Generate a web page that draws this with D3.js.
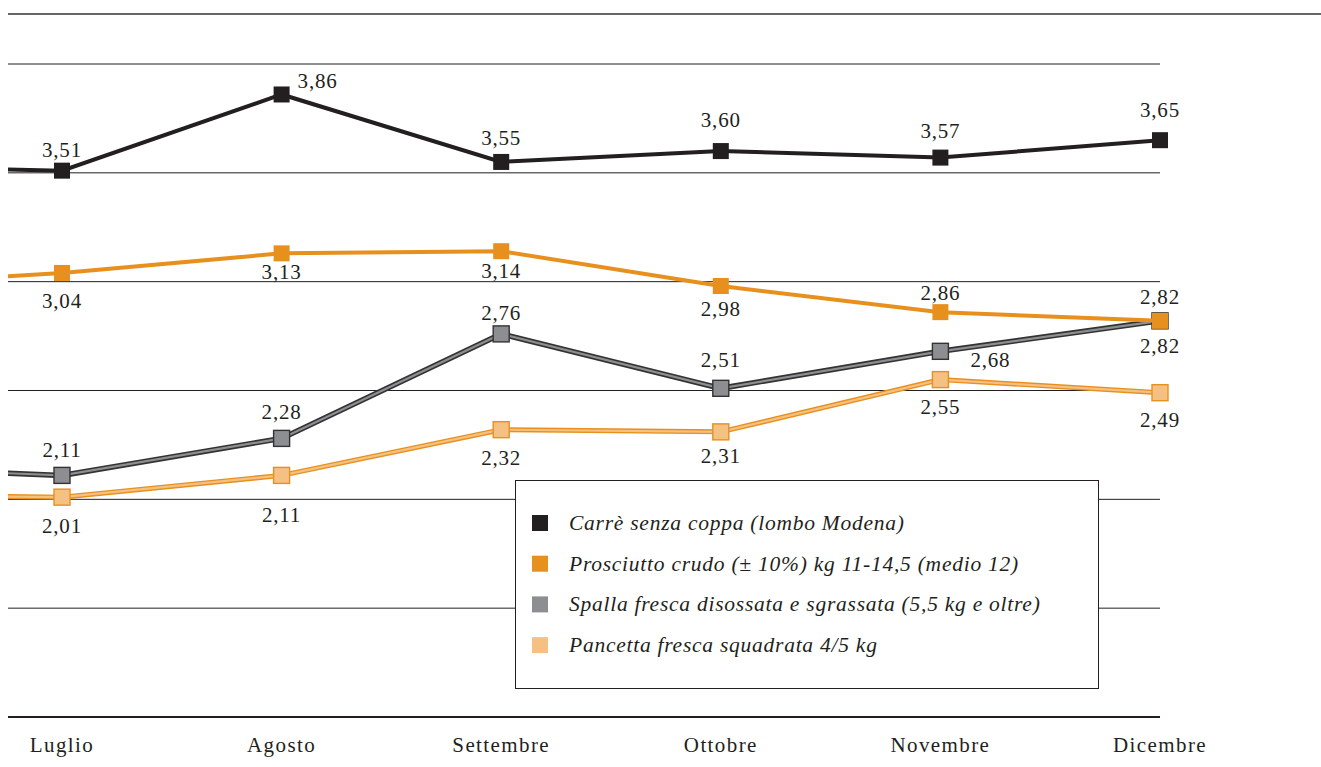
<!DOCTYPE html>
<html>
<head>
<meta charset="utf-8">
<script src="https://cdn.jsdelivr.net/npm/d3@7"></script>
<style>
  body { margin: 0; background: #fff; }
  svg { display: block; font-family: "Liberation Serif", "DejaVu Serif", serif; }
</style>
</head>
<body>
<svg id="chart" width="1321" height="767"></svg>
<script>
var months = ["Luglio", "Agosto", "Settembre", "Ottobre", "Novembre", "Dicembre"];

// Valori in euro/kg
var carre      = [3.51, 3.86, 3.55, 3.60, 3.57, 3.65];
var prosciutto = [3.04, 3.13, 3.14, 2.98, 2.86, 2.82];
var spalla     = [2.11, 2.28, 2.76, 2.51, 2.68, 2.82];
var pancetta   = [2.01, 2.11, 2.32, 2.31, 2.55, 2.49];

// giugno (mese precedente, esce a sinistra del grafico)
var prevValues = {carre: 3.53, prosciutto: 2.98, spalla: 2.15, pancetta: 2.02};

var yTicks = [1.5, 2, 2.5, 3, 3.5, 4];

var seriesNames = {
  carre: "Carrè senza coppa (lombo Modena)",
  prosciutto: "Prosciutto crudo (± 10%) kg 11-14,5 (medio 12)",
  spalla: "Spalla fresca disossata e sgrassata (5,5 kg e oltre)",
  pancetta: "Pancetta fresca squadrata 4/5 kg"
};

var svg = d3.select("#chart");

var x = d3.scaleLinear().domain([0, 5]).range([62, 1160]);
var y = d3.scaleLinear().domain([1, 4]).range([717, 64]);

// top rule
svg.append("line")
    .attr("x1", 8).attr("x2", 1321)
    .attr("y1", 14).attr("y2", 14)
    .attr("stroke", "#666").attr("stroke-width", 2);

// gridlines
svg.append("g").selectAll("line")
    .data(yTicks)
    .enter().append("line")
    .attr("x1", 8).attr("x2", 1160)
    .attr("y1", function(d) { return y(d); })
    .attr("y2", function(d) { return y(d); })
    .attr("stroke", "#231f20").attr("stroke-width", 1);

// base axis
svg.append("line")
    .attr("x1", 8).attr("x2", 1160)
    .attr("y1", y(1)).attr("y2", y(1))
    .attr("stroke", "#231f20").attr("stroke-width", 2.2);

svg.append("g").selectAll("text")
    .data(months)
    .enter().append("text")
    .attr("x", function(d, i) { return x(i); })
    .attr("y", 752)
    .attr("text-anchor", "middle")
    .attr("font-size", 21)
    .attr("letter-spacing", 1.4)
    .attr("fill", "#231f20")
    .text(function(d) { return d; });

svg.append("clipPath").attr("id", "clip")
  .append("rect").attr("x", 8).attr("y", 0).attr("width", 1313).attr("height", 767);

var fmt = function(v) { return d3.format(".2f")(v).replace(".", ","); };

var styles = {
  pancetta:   {fill: "#f5c182", outline: "#e8901e", inner: 2.2, outer: 5, box: "#e8901e"},
  spalla:     {fill: "#8d8e92", outline: "#333333", inner: 2.2, outer: 5.5, box: "#333333"},
  prosciutto: {fill: "#e8901e", outline: null, inner: 4, box: null},
  carre:      {fill: "#231f20", outline: null, inner: 4, box: null}
};

// label offsets [dx, dy] from the marker centre
var labelPos = {
  carre:      [[0, -14], [36, -6], [0, -17], [0, -24], [0, -20], [0, -23]],
  prosciutto: [[0, 35], [0, 26], [0, 27], [0, 30], [0, -12], [0, -17]],
  spalla:     [[0, -18], [0, -19], [0, -14], [0, -21], [50, 16], [0, 32]],
  pancetta:   [[0, 36], [0, 47], [0, 35], [0, 31], [0, 34], [0, 34]]
};

var data = {carre: carre, prosciutto: prosciutto, spalla: spalla, pancetta: pancetta};
var order = ["pancetta", "spalla", "prosciutto", "carre"];

var line = d3.line()
    .x(function(d) { return x(d.i); })
    .y(function(d) { return y(d.v); });

order.forEach(function(key) {
  var st = styles[key];
  var pts = [{i: -1, v: prevValues[key]}].concat(data[key].map(function(v, i) { return {i: i, v: v}; }));
  var g = svg.append("g");
  if (st.outline) {
    g.append("path").datum(pts)
        .attr("clip-path", "url(#clip)")
        .attr("d", line).attr("fill", "none")
        .attr("stroke", st.outline).attr("stroke-width", st.outer);
  }
  g.append("path").datum(pts)
      .attr("clip-path", "url(#clip)")
      .attr("d", line).attr("fill", "none")
      .attr("stroke", st.fill).attr("stroke-width", st.inner);

  g.selectAll("rect")
      .data(data[key])
      .enter().append("rect")
      .attr("x", function(d, i) { return x(i) - 8; })
      .attr("y", function(d) { return y(d) - 8; })
      .attr("width", 16).attr("height", 16)
      .attr("fill", st.fill)
      .attr("stroke", st.box ? st.box : "none")
      .attr("stroke-width", st.box ? 1.4 : 0);
});

order.forEach(function(key) {
  svg.append("g").selectAll("text")
      .data(data[key])
      .enter().append("text")
      .attr("x", function(d, i) { return x(i) + labelPos[key][i][0]; })
      .attr("y", function(d, i) { return y(d) + labelPos[key][i][1]; })
      .attr("text-anchor", "middle")
      .attr("font-size", 21)
      .attr("letter-spacing", 0.8)
      .attr("fill", "#231f20")
      .text(function(d) { return fmt(d); });
});

// legend
var legend = svg.append("g").attr("transform", "translate(515,480)");
legend.append("rect")
    .attr("x", 0.5).attr("y", 0.5)
    .attr("width", 583).attr("height", 208)
    .attr("fill", "#fff").attr("stroke", "#231f20").attr("stroke-width", 1);

var legendKeys = ["carre", "prosciutto", "spalla", "pancetta"];
var item = legend.selectAll("g.item")
    .data(legendKeys)
    .enter().append("g")
    .attr("class", "item")
    .attr("transform", function(d, i) { return "translate(0," + (43 + i * 40.7) + ")"; });

item.append("rect")
    .attr("x", 17).attr("y", -8)
    .attr("width", 16).attr("height", 16)
    .attr("fill", function(d) { return styles[d].fill; });

item.append("text")
    .attr("x", 54).attr("y", 7)
    .attr("font-size", 21.5)
    .attr("font-style", "italic")
    .attr("letter-spacing", 0.75)
    .attr("fill", "#231f20")
    .text(function(d) { return seriesNames[d]; });
</script>
</body>
</html>
